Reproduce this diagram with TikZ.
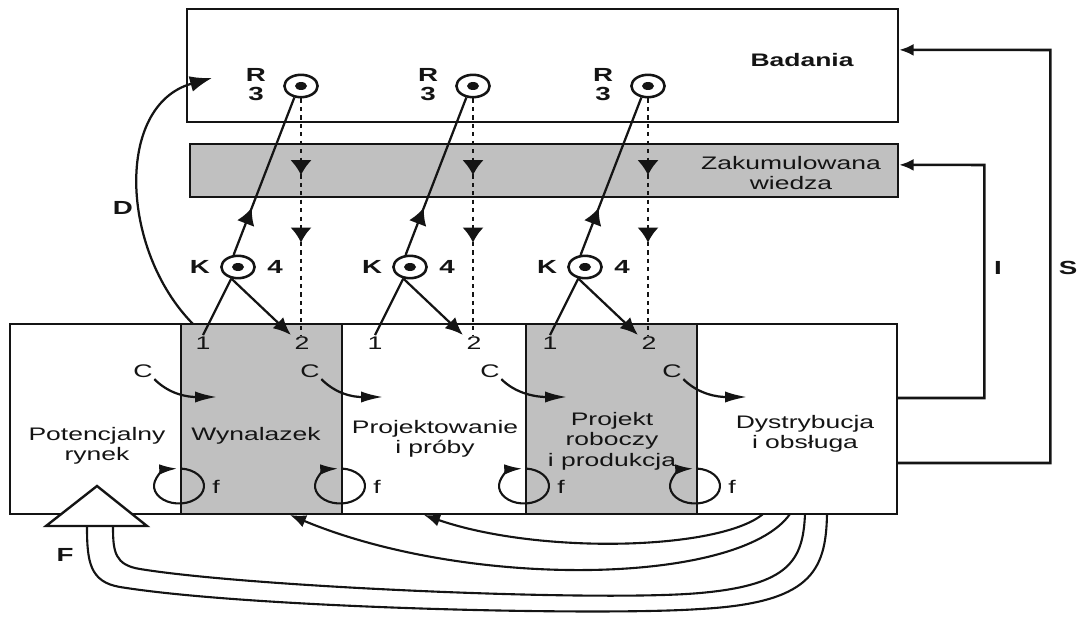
\documentclass[tikz,border=0pt]{standalone}
\usepackage{fontspec}
\setmainfont{Liberation Sans}[FakeStretch=1.46]
\usetikzlibrary{arrows.meta,calc,decorations.markings,shapes.geometric}
\definecolor{ink}{HTML}{141414}
\definecolor{shade}{HTML}{C0C0C0}
\tikzset{
  box/.style={rectangle,draw=ink,line width=1.8pt,inner sep=0pt},
  stage/.style={rectangle,draw=ink,line width=1.3pt,minimum height=47.5mm,inner sep=0pt},
  txt/.style={align=center,inner sep=0pt,text=ink,font=\fontsize{12.9}{14.6}\selectfont},
  head/.style={txt,font=\fontsize{12.9}{14.6}\selectfont\bfseries},
  tag/.style={inner sep=1pt,text=ink,font=\fontsize{13}{14}\selectfont},
  tagb/.style={tag,align=center,font=\fontsize{13.5}{13.5}\selectfont\bfseries},
  ring/.style={ellipse,draw=ink,fill=white,line width=1.8pt,minimum width=8.3mm,minimum height=5.6mm,inner sep=0pt,
    path picture={\fill[ink] (path picture bounding box.center) ellipse [x radius=1.5mm,y radius=1mm];}},
  wire/.style={draw=ink,line width=1.6pt},
  midtip/.style={postaction={decorate},decoration={markings,mark=at position #1 with {\arrow{Latex[length=4.2mm,width=4.6mm]}}}},
  dots/.style={draw=ink,line width=1.8pt,dash pattern=on 3pt off 3pt,postaction={decorate},
    decoration={markings,mark=at position 0.325 with {\arrow{Latex[length=3.8mm,width=5.4mm]}},
      mark=at position 0.61 with {\arrow{Latex[length=3.8mm,width=5.4mm]}}}},
  floop/.style={draw=ink,line width=1.5pt,-{Latex[length=4.5mm,width=2.6mm]}},
  feed/.style={draw=ink,line width=1.8pt,-{Latex[length=3.6mm,width=3mm]}},
  back/.style={draw=ink,line width=1.5pt},
  triangle/.style={draw=ink,fill=white,line width=1.7pt,line join=miter},
}
\begin{document}
\begin{tikzpicture}[x=0.25mm,y=-0.25mm]
  \useasboundingbox (0,0) rectangle (1083,619);
  \node[box,minimum width=177.75mm,minimum height=28.25mm] (badania) at (542.5,65.5) {};
  \node[box,fill=shade,minimum width=177mm,minimum height=13.25mm] (wiedza) at (544,170.5) {};
  \node[head] (tbad) at (802,60) {Badania};
  \node[txt] (twie) at (791,173) {Zakumulowana\\wiedza};
  \node[stage,minimum width=42.75mm] (rynek) at (95.5,419) {};
  \node[stage,fill=shade,minimum width=40.25mm] (wyn) at (261.5,419) {};
  \node[stage,minimum width=46mm] (proj) at (434,419) {};
  \node[stage,fill=shade,minimum width=42.75mm] (rob) at (611.5,419) {};
  \node[stage,minimum width=50mm] (dys) at (797,419) {};
  \node[txt] (trynek) at (97,446) {Potencjalny\\rynek};
  \node[txt] (twyn) at (256,436) {Wynalazek};
  \node[txt] (tproj) at (435,439) {Projektowanie\\i próby};
  \node[txt] (trob) at (612,441) {Projekt\\roboczy\\i produkcja};
  \node[txt] (tdys) at (805,434) {Dystrybucja\\i obsługa};
  \foreach \i/\rx in {1/301,2/473,3/648} {
    \node[ring] (r\i) at (\rx,86) {};
    \node[ring] (k\i) at (\rx-63,267) {};
    \node[tagb] (rt\i) at (\rx-45,85) {R\\3};
    \node[tagb] (kt\i) at (\rx-101,267) {K};
    \node[tagb] (four\i) at (\rx-26,267) {4};
    \node[tag] (one\i) at (\rx-98,343) {1};
    \node[tag] (two\i) at (\rx+1,343) {2};
    \draw[wire] (one\i.north) -- (k\i.240);
    \draw[wire,midtip=0.3] (k\i.110) -- (r\i.240);
    \draw[wire,-{Latex[length=4.4mm,width=3.8mm]}] (k\i.240) -- ([xshift=-0.5mm]two\i.north west);
    \draw[dots] (r\i.south) -- (r\i.south |- two\i.north);
  }
  \foreach \i/\cx/\tx in {1/143/217,2/310/383,3/490/567,4/672/747} {
    \node[tag] (c\i) at (\cx,371) {C};
    \coordinate (ctip\i) at (\tx,397);
    \draw[wire,-{Latex[length=5.5mm,width=2.8mm]}] (c\i.south east) .. controls +(15,15) and +(-30,0) .. (ctip\i);
  }
  \foreach \i/\dx in {1/181,2/342,3/526,4/697} {
    \coordinate (fc\i) at (\dx-2,486);
    \draw[floop] (fc\i) ++(-85:25 and 17.5) arc[start angle=-85,end angle=266,x radius=25,y radius=17.5];
    \node[tag] (fl\i) at (\dx+35,487) {f};
  }
  \coordinate (dfoot) at (193,324);
  \coordinate (dhead) at (212,78);
  \draw[wire,-{Latex[length=5.5mm,width=4mm]}] (dfoot) .. controls (120,250) and (115,105) .. (dhead);
  \node[tagb] (dlab) at (123,208) {D};
  \draw[feed] ([yshift=5.25mm]dys.east) -| ($(wiedza.east)+(85,-5.5)$) -- ([yshift=1.4mm]wiedza.east);
  \draw[feed] ([yshift=-11mm]dys.east) -| ($(badania.east)+(151,-15.5)$) -- ([yshift=3.9mm]badania.east);
  \node[tagb] (ilab) at (998,268) {I};
  \node[tagb] (slab) at (1068,268) {S};
  \coordinate (d1) at (763,514);
  \coordinate (d2) at (790,514);
  \coordinate (d3) at (805,514);
  \coordinate (d4) at (827,514);
  \coordinate (pback) at (424,515);
  \coordinate (wback) at (290,515);
  \draw[back,-{Latex[length=4mm,width=3.2mm]}] (d1) .. controls (720,550) and (540,555) .. (pback);
  \draw[back,-{Latex[length=4mm,width=3.2mm]}] (d2) .. controls (740,585) and (470,590) .. (wback);
  \draw[triangle] (46,526) coordinate (tl) -- (97,486) coordinate (tapex) -- (147,526) coordinate (tr) -- cycle;
  \coordinate (tb1) at (87,527);
  \coordinate (tb2) at (113,527);
  \draw[back] (d3) .. controls (803,560) and (790,585) .. (700,593) .. controls (600,602) and (250,587) .. (140,569) .. controls (115,565) and (113,552) .. (tb2);
  \draw[back] (d4) .. controls (826,572) and (810,603) .. (700,609) .. controls (600,616) and (250,608) .. (120,587) .. controls (90,582) and (87,562) .. (tb1);
  \node[tagb] (flab) at (65,555) {F};
\end{tikzpicture}
\end{document}
